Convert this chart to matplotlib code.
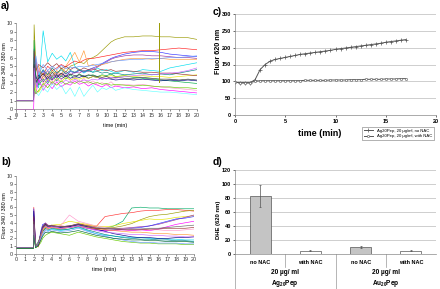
import matplotlib
matplotlib.use("Agg")
import matplotlib.pyplot as plt
import numpy as np

# ---------------- data ----------------
# Panel a: time grid after stimulus (min) and individual cell traces
TA = [2.0, 2.2, 2.5, 3, 3.5, 4, 4.5, 5, 5.5, 6, 6.5, 7, 7.5, 8, 8.5, 9, 9.5,
      10, 10.5, 11, 12, 13, 14, 15, 16, 17, 18, 19, 20]
A_BASE = [1.0, 1.0, 1.0, 1.0, 1.0, 1.0, 0.0, 1.0, 1.0, 1.0, 1.0, 1.0, 1.0, 1.0, 1.0, 1.0, 1.0, 1.0]
A_COLORS = ['#999900', '#00DDEE', '#FF2020', '#3333FF', '#993399', '#FF9933',
            '#FF00FF', '#66FFFF', '#00AA44', '#000080', '#FF99CC', '#008080',
            '#E6E600', '#993333', '#6699FF', '#66CC00', '#333333', '#CC66FF']
A_TRACES = [
    [9.8, 5.0, 3.5, 4.2, 3.8, 4.5, 4.0, 4.8, 4.3, 5.0, 5.2, 5.5, 5.3, 5.8, 6.0, 6.3, 6.8, 7.3, 7.8, 8.1, 8.4, 8.4, 8.5, 8.5, 8.4, 8.4, 8.3, 8.3, 8.1],
    [6.5, 3.0, 2.5, 9.1, 5.5, 6.5, 5.8, 6.2, 5.6, 6.6, 5.0, 4.6, 4.2, 4.5, 4.3, 4.8, 4.5, 4.6, 4.4, 4.2, 4.5, 4.3, 4.6, 4.5, 4.4, 4.8, 5.0, 5.2, 5.4],
    [5.5, 3.0, 4.5, 4.0, 5.0, 4.5, 4.8, 5.2, 4.9, 5.3, 5.6, 5.4, 5.7, 5.9, 5.9, 6.0, 6.1, 6.2, 6.3, 6.4, 6.6, 6.7, 6.8, 6.8, 6.9, 7.0, 7.1, 7.0, 6.9],
    [7.0, 2.5, 3.5, 4.5, 3.2, 4.0, 3.6, 4.2, 3.8, 4.4, 4.2, 4.5, 4.3, 4.6, 4.8, 5.0, 5.3, 5.6, 5.9, 6.1, 6.4, 6.6, 6.7, 6.7, 6.6, 6.4, 6.3, 6.2, 6.1],
    [4.0, 5.8, 3.0, 3.8, 4.5, 3.5, 4.2, 3.8, 4.4, 4.0, 4.3, 4.2, 4.5, 4.4, 4.6, 4.9, 5.2, 5.5, 5.8, 6.0, 6.2, 6.3, 6.3, 6.2, 6.2, 6.1, 6.0, 6.0, 5.9],
    [3.0, 4.5, 5.0, 3.5, 4.2, 3.8, 4.5, 4.0, 5.0, 5.8, 6.6, 5.5, 6.8, 5.0, 5.2, 5.0, 5.2, 5.3, 5.5, 5.6, 5.8, 5.9, 5.9, 5.8, 5.9, 5.8, 5.8, 5.8, 5.8],
    [2.0, 1.8, 3.5, 2.2, 3.0, 2.4, 3.2, 2.6, 3.0, 2.8, 3.3, 2.9, 3.1, 2.7, 3.0, 2.8, 2.6, 2.9, 2.5, 2.7, 2.5, 2.6, 2.4, 2.5, 2.3, 2.2, 2.1, 2.0, 1.9],
    [3.0, 2.0, 1.6, 2.5, 2.0, 3.0, 2.3, 2.8, 1.8, 2.5, 1.5, 2.6, 1.5, 2.2, 2.8, 2.0, 2.5, 2.3, 2.6, 2.2, 2.5, 2.3, 2.2, 2.1, 2.0, 2.0, 1.9, 1.8, 1.7],
    [8.0, 4.0, 2.8, 3.5, 3.0, 3.8, 3.3, 3.9, 3.5, 4.0, 3.6, 4.1, 3.8, 3.9, 4.0, 3.8, 4.0, 3.9, 4.1, 3.8, 3.9, 3.7, 3.6, 3.5, 3.4, 3.3, 3.2, 3.1, 3.0],
    [5.0, 3.5, 4.0, 3.2, 3.8, 3.4, 4.0, 3.5, 3.9, 3.6, 3.8, 3.7, 3.9, 3.6, 3.8, 3.7, 3.5, 3.6, 3.5, 3.4, 3.5, 3.4, 3.5, 3.4, 3.3, 3.4, 3.3, 3.4, 3.3],
    [3.5, 2.5, 4.8, 3.0, 4.0, 3.2, 4.4, 3.4, 4.2, 3.3, 3.8, 3.1, 3.6, 3.0, 3.3, 2.9, 3.1, 2.8, 3.2, 2.7, 2.9, 2.8, 2.9, 2.7, 2.6, 2.5, 2.4, 2.3, 2.2],
    [6.0, 3.0, 3.8, 4.6, 4.0, 4.8, 4.2, 4.6, 4.1, 4.5, 4.3, 4.6, 4.4, 4.5, 4.3, 4.4, 4.2, 4.3, 4.1, 4.2, 4.0, 4.1, 4.2, 4.0, 4.1, 4.0, 4.2, 4.4, 4.6],
    [4.5, 2.2, 2.0, 2.8, 3.5, 3.0, 3.6, 3.2, 3.7, 3.4, 3.6, 3.5, 3.7, 3.6, 3.8, 3.7, 3.9, 3.8, 3.9, 3.8, 3.9, 3.8, 3.9, 3.8, 3.8, 3.7, 3.8, 3.9, 4.0],
    [6.8, 4.5, 5.2, 4.8, 5.4, 4.9, 5.3, 4.7, 5.0, 4.6, 4.9, 4.5, 4.8, 4.6, 4.7, 4.5, 4.6, 4.5, 4.6, 4.4, 4.5, 4.4, 4.3, 4.3, 4.2, 4.2, 4.1, 4.0, 3.9],
    [3.8, 6.2, 4.0, 5.2, 4.5, 5.0, 4.6, 5.1, 4.7, 4.9, 4.8, 5.0, 4.9, 5.0, 5.1, 5.2, 5.3, 5.4, 5.5, 5.6, 5.7, 5.8, 5.8, 5.9, 5.9, 6.0, 6.0, 6.1, 6.2],
    [2.5, 1.8, 2.2, 3.0, 2.5, 3.2, 2.8, 3.3, 2.9, 3.2, 3.0, 3.3, 3.1, 3.2, 3.0, 3.1, 2.9, 3.0, 2.8, 2.9, 2.8, 2.7, 2.8, 2.7, 2.6, 2.6, 2.5, 2.5, 2.4],
    [5.2, 3.2, 3.6, 4.1, 3.5, 4.3, 3.7, 4.2, 3.8, 4.1, 3.9, 4.0, 3.8, 4.0, 3.9, 3.8, 3.7, 3.8, 3.6, 3.7, 3.6, 3.6, 3.7, 3.6, 3.5, 3.5, 3.4, 3.5, 3.4],
    [4.8, 2.8, 3.2, 2.6, 3.4, 2.9, 3.5, 3.0, 3.4, 3.1, 3.5, 3.2, 3.4, 3.3, 3.5, 3.4, 3.6, 3.5, 3.7, 3.6, 3.8, 3.9, 4.0, 4.0, 4.1, 4.2, 4.3, 4.5, 4.8],
]
# measurement artefact at ~15.8 min in panel a
A_ART_T = [15.8, 15.8]
A_ART_Y = [10.0, 3.2]

# Panel b
TB = [2.0, 2.2, 2.5, 2.8, 3, 3.3, 3.6, 4, 5, 6, 7, 8, 9, 10, 11, 12, 13, 14, 15, 16, 17, 18, 19, 20]
B_BASE = [0.8, 0.8, 0.8, 0.8, 0.8, 0.8, 0.7, 0.8, 0.8, 0.8, 0.8, 0.7, 0.8, 0.8, 0.8, 0.8, 0.7, 0.8]
B_COLORS = ['#00AA66', '#FF3333', '#999900', '#E6E600', '#993399', '#3333FF',
            '#00DDEE', '#FF00FF', '#008080', '#000080', '#FF99CC', '#66CC00',
            '#FF9933', '#993333', '#6699FF', '#CC66FF', '#006633', '#666666']
B_TRACES = [
    [3.0, 1.0, 1.2, 2.5, 3.5, 3.8, 3.5, 3.6, 3.4, 3.5, 3.7, 3.4, 3.2, 3.3, 3.6, 4.2, 5.9, 6.0, 5.9, 5.9, 5.8, 5.8, 5.8, 5.8],
    [6.0, 1.2, 0.9, 2.0, 3.2, 3.6, 3.3, 3.5, 3.6, 3.5, 3.8, 3.7, 3.5, 4.8, 5.0, 5.2, 5.3, 5.5, 5.6, 5.6, 5.7, 5.7, 5.6, 5.5],
    [2.5, 1.0, 1.3, 2.2, 2.8, 3.4, 3.3, 3.4, 3.2, 3.4, 3.6, 3.3, 3.2, 3.3, 3.4, 3.6, 3.9, 4.4, 4.8, 5.0, 5.1, 5.3, 5.5, 5.6],
    [3.5, 1.1, 1.5, 2.6, 3.0, 3.6, 3.4, 3.7, 3.8, 4.2, 4.0, 3.8, 3.6, 3.5, 3.6, 3.9, 4.1, 4.3, 4.5, 4.4, 4.5, 4.7, 4.8, 4.9],
    [4.0, 0.9, 1.0, 2.8, 3.6, 4.0, 3.7, 3.6, 3.5, 3.6, 3.8, 3.5, 3.3, 3.2, 3.3, 3.3, 3.4, 3.5, 3.6, 3.8, 4.1, 4.4, 4.7, 5.0],
    [5.8, 1.0, 1.1, 3.0, 3.8, 3.9, 3.6, 3.5, 3.4, 3.5, 3.7, 3.4, 3.1, 3.0, 3.1, 3.2, 3.3, 3.4, 3.6, 3.9, 4.2, 4.5, 4.6, 4.8],
    [2.0, 0.9, 1.4, 2.0, 2.6, 3.2, 3.0, 3.2, 3.0, 3.2, 3.4, 3.0, 2.6, 2.4, 2.3, 2.2, 2.1, 2.1, 2.0, 2.0, 1.9, 1.9, 1.8, 1.8],
    [4.5, 1.0, 1.2, 2.4, 3.3, 3.7, 3.4, 3.5, 3.3, 3.4, 3.6, 3.3, 3.1, 3.0, 3.0, 3.1, 3.0, 3.1, 3.0, 3.2, 3.5, 3.8, 4.0, 4.2],
    [3.0, 1.0, 1.6, 2.2, 2.9, 3.3, 3.1, 3.3, 3.1, 3.2, 3.5, 3.1, 2.8, 2.5, 2.3, 2.1, 2.0, 1.9, 1.9, 1.8, 1.8, 1.7, 1.7, 1.6],
    [5.5, 1.1, 1.2, 2.6, 3.4, 3.8, 3.5, 3.6, 3.4, 3.5, 3.8, 3.5, 3.2, 2.9, 2.6, 2.4, 2.2, 2.1, 2.1, 2.0, 2.0, 2.1, 2.1, 2.2],
    [2.5, 0.9, 1.5, 2.1, 2.7, 3.1, 3.2, 3.4, 3.6, 5.0, 4.2, 3.9, 3.6, 3.4, 3.3, 3.3, 3.2, 3.2, 3.1, 3.1, 3.0, 3.0, 3.1, 3.2],
    [2.2, 0.8, 1.0, 1.5, 2.0, 2.4, 2.6, 2.8, 2.6, 2.4, 2.8, 2.5, 2.2, 2.0, 1.8, 1.6, 1.5, 1.4, 1.4, 1.3, 1.3, 1.3, 1.2, 1.2],
    [3.2, 1.0, 1.3, 2.3, 3.0, 3.5, 3.3, 3.4, 3.3, 3.4, 3.6, 3.4, 3.2, 3.1, 3.0, 2.9, 2.8, 2.8, 2.7, 2.6, 2.6, 2.5, 2.5, 2.4],
    [4.8, 1.1, 1.1, 2.7, 3.5, 3.9, 3.6, 3.7, 3.5, 3.6, 3.9, 3.6, 3.3, 3.2, 3.2, 3.1, 3.1, 3.1, 3.2, 3.2, 3.3, 3.3, 3.3, 3.4],
    [2.8, 0.9, 1.3, 2.0, 2.5, 3.0, 2.9, 3.1, 2.9, 3.0, 3.3, 2.9, 2.6, 2.3, 2.0, 1.8, 1.6, 1.5, 1.5, 1.4, 1.4, 1.4, 1.3, 1.3],
    [3.8, 1.0, 1.2, 2.5, 3.2, 3.6, 3.4, 3.5, 3.3, 3.4, 3.6, 3.3, 3.0, 2.8, 2.7, 2.6, 2.5, 2.5, 2.4, 2.4, 2.3, 2.3, 2.2, 2.2],
    [2.4, 0.8, 1.1, 1.8, 2.3, 2.8, 2.7, 2.9, 2.7, 2.8, 3.0, 2.7, 2.4, 2.2, 2.0, 1.9, 1.8, 1.8, 1.7, 1.7, 1.6, 1.6, 1.6, 1.5],
    [4.2, 1.0, 1.4, 2.6, 3.3, 3.7, 3.5, 3.6, 3.5, 3.6, 3.8, 3.6, 3.4, 3.3, 3.3, 3.2, 3.2, 3.2, 3.3, 3.3, 3.4, 3.5, 3.6, 3.7],
]

# Panel c
TC = [0, 0.5, 1, 1.5, 2, 2.5, 3, 3.5, 4, 4.5, 5, 5.5, 6, 6.5, 7, 7.5, 8, 8.5,
      9, 9.5, 10, 10.5, 11, 11.5, 12, 12.5, 13, 13.5, 14, 14.5, 15, 15.5, 16, 16.5, 17]
C_NO_NAC = [97, 96, 96, 96, 105, 135, 150, 160, 165, 168, 171, 174, 177, 180, 182, 184, 186, 188,
            190, 192, 195, 197, 199, 201, 203, 205, 207, 209, 211, 213, 216, 218, 220, 222, 224]
C_WITH_NAC = [97, 96, 96, 96, 100, 102, 102, 102, 102, 102, 102, 102, 102, 102, 103, 103, 103, 103,
              103, 104, 104, 104, 104, 105, 105, 105, 106, 106, 106, 106, 107, 107, 107, 108, 108]
C_LABELS = ['Ag20Pep, 20 µg/ml, no NAC', 'Ag20Pep, 20 µg/ml, with NAC']

# Panel d
D_SUB = ['no NAC', 'with NAC', 'no NAC', 'with NAC']
D_GROUPS = ['20 µg/ ml\nAg$_{20}$Pep', '20 µg/ ml\nAu$_{20}$Pep']
D_VALUES = [83, 5, 10, 5]
D_ERR = [16, 0.5, 1, 0.5]

# ---------------- figure ----------------
W, H = 440, 289
plt.rcParams['font.family'] = ['Liberation Sans', 'DejaVu Sans']
plt.rcParams['mathtext.fontset'] = 'custom'
plt.rcParams['mathtext.rm'] = 'Liberation Sans:bold'
plt.rcParams['mathtext.it'] = 'Liberation Sans:bold'
plt.rcParams['mathtext.bf'] = 'Liberation Sans:bold'
fig = plt.figure(figsize=(W / 100, H / 100), dpi=100)


def box(x0, y0, x1, y1):
    return [x0 / W, 1 - y1 / H, (x1 - x0) / W, (y1 - y0) / H]


tick_fs = 3.9
spine_col = '#888888'


def trace_axes(ax, T, base, traces, colors, ymin):
    for b, tr, col in zip(base, traces, colors):
        ax.plot([0] + [1.95] + T, [b, b] + tr, color=col, lw=0.45)
    ax.set_xlim(0, 20)
    ax.set_ylim(ymin, 10)
    ax.set_xticks(range(0, 21))
    ax.set_yticks(range(ymin, 11))
    for s in ['top', 'right']:
        ax.spines[s].set_visible(False)
    for s in ['left', 'bottom']:
        ax.spines[s].set_color(spine_col)
        ax.spines[s].set_linewidth(0.5)
    ax.spines['bottom'].set_position(('data', 0))
    ax.tick_params(labelsize=tick_fs, length=1.5, width=0.4, pad=1, colors='#333333')
    ax.set_facecolor('none')


# Panel a
axa = fig.add_axes(box(16, 23, 197, 118))
trace_axes(axa, TA, A_BASE, A_TRACES, A_COLORS, -1)
axa.plot(A_ART_T, A_ART_Y, color='#999900', lw=0.7)
fig.text(5 / W, 1 - 65 / H, 'Fluor 340 / 380 nm', rotation=90, fontsize=3.9,
         ha='center', va='center')
fig.text(115 / W, 1 - 126 / H, 'time (min)', fontsize=3.9, ha='center', va='center')
fig.text(1 / W, 1 - 6 / H, 'a)', fontsize=7.5, fontweight='bold', ha='left', va='center')

# Panel b
axb = fig.add_axes(box(16, 176, 194, 254))
trace_axes(axb, TB, B_BASE, B_TRACES, B_COLORS, 0)
fig.text(5 / W, 1 - 215 / H, 'Fluor 340 / 380 nm', rotation=90, fontsize=3.9,
         ha='center', va='center')
fig.text(104 / W, 1 - 269 / H, 'time (min)', fontsize=3.9, ha='center', va='center')
fig.text(1 / W, 1 - 162 / H, 'b)', fontsize=7.5, fontweight='bold', ha='left', va='center')

# Panel c
axc = fig.add_axes(box(235, 14, 436, 115))
axc.plot(TC, C_NO_NAC, color='#555555', lw=0.7, marker='+', ms=2.2, mew=0.5, label=C_LABELS[0])
axc.plot(TC, C_WITH_NAC, color='#555555', lw=0.7, marker='o', ms=1.6, mew=0.4,
         mfc='white', label=C_LABELS[1])
axc.set_xlim(0, 20)
axc.set_ylim(0, 300)
axc.set_xticks([0, 5, 10, 15, 20])
axc.set_yticks(range(0, 301, 50))
axc.yaxis.grid(True, color='#bbbbbb', lw=0.5)
axc.set_axisbelow(True)
for s in ['top', 'right']:
    axc.spines[s].set_visible(False)
for s in ['left', 'bottom']:
    axc.spines[s].set_color(spine_col)
    axc.spines[s].set_linewidth(0.5)
axc.tick_params(labelsize=4.0, length=1.5, width=0.4, pad=1.5)
for lab in axc.get_xticklabels() + axc.get_yticklabels():
    lab.set_fontweight('bold')
fig.text(218 / W, 1 - 51 / H, 'Fluor 620 nm', rotation=90, fontsize=5.2,
         fontweight='bold', ha='center', va='center')
fig.text(320 / W, 1 - 134 / H, 'time (min)', fontsize=6.5, fontweight='bold',
         ha='center', va='center')
fig.text(213 / W, 1 - 12 / H, 'c)', fontsize=7.5, fontweight='bold', ha='left', va='center')
leg = axc.legend(loc='upper left', bbox_to_anchor=((362 - 235) / 201, -(127 - 115) / 101),
                 fontsize=3.1, frameon=True, fancybox=False, borderpad=0.4,
                 handlelength=2.2, labelspacing=0.3, borderaxespad=0)
leg.get_frame().set_linewidth(0.4)
leg.get_frame().set_edgecolor('#555555')

# Panel d
axd = fig.add_axes(box(235, 170, 436, 254))
x = np.arange(len(D_VALUES))
cols = ['#c4c4c4', 'white', '#c4c4c4', 'white']
axd.bar(x, D_VALUES, width=0.42, color=cols, edgecolor='#555555', linewidth=0.5,
        yerr=D_ERR, error_kw=dict(ecolor='#555555', elinewidth=0.5, capsize=0.8, capthick=0.5),
        zorder=3)
axd.set_xlim(-0.5, 3.5)
axd.set_ylim(0, 120)
axd.set_yticks(range(0, 121, 20))
axd.set_xticks(x)
axd.set_xticklabels(D_SUB)
axd.yaxis.grid(True, color='#bbbbbb', lw=0.5)
axd.set_axisbelow(True)
for s in ['top', 'right']:
    axd.spines[s].set_visible(False)
for s in ['left', 'bottom']:
    axd.spines[s].set_color(spine_col)
    axd.spines[s].set_linewidth(0.5)
axd.tick_params(axis='y', labelsize=4.0, length=1.5, width=0.4, pad=1.5)
axd.tick_params(axis='x', labelsize=4.0, length=0, pad=4)
for lab in axd.get_xticklabels() + axd.get_yticklabels():
    lab.set_fontweight('bold')
trans = axd.get_xaxis_transform()
for xs, y_end in [(-0.5, -0.42), (0.5, -0.16), (1.5, -0.42), (2.5, -0.16)]:
    axd.plot([xs, xs], [0, y_end], transform=trans, color='#999999', lw=0.5, clip_on=False)
for gi, g in enumerate(D_GROUPS):
    axd.text(0.5 + 2 * gi, -0.30, g, transform=trans, ha='center', va='center',
             fontsize=4.7, fontweight='bold', linespacing=1.35)
fig.text(218 / W, 1 - 220 / H, 'DHE (620 nm)', rotation=90, fontsize=4.2,
         fontweight='bold', ha='center', va='center')
fig.text(213 / W, 1 - 162 / H, 'd)', fontsize=7.5, fontweight='bold', ha='left', va='center')

fig.savefig('out.png', dpi=100)
